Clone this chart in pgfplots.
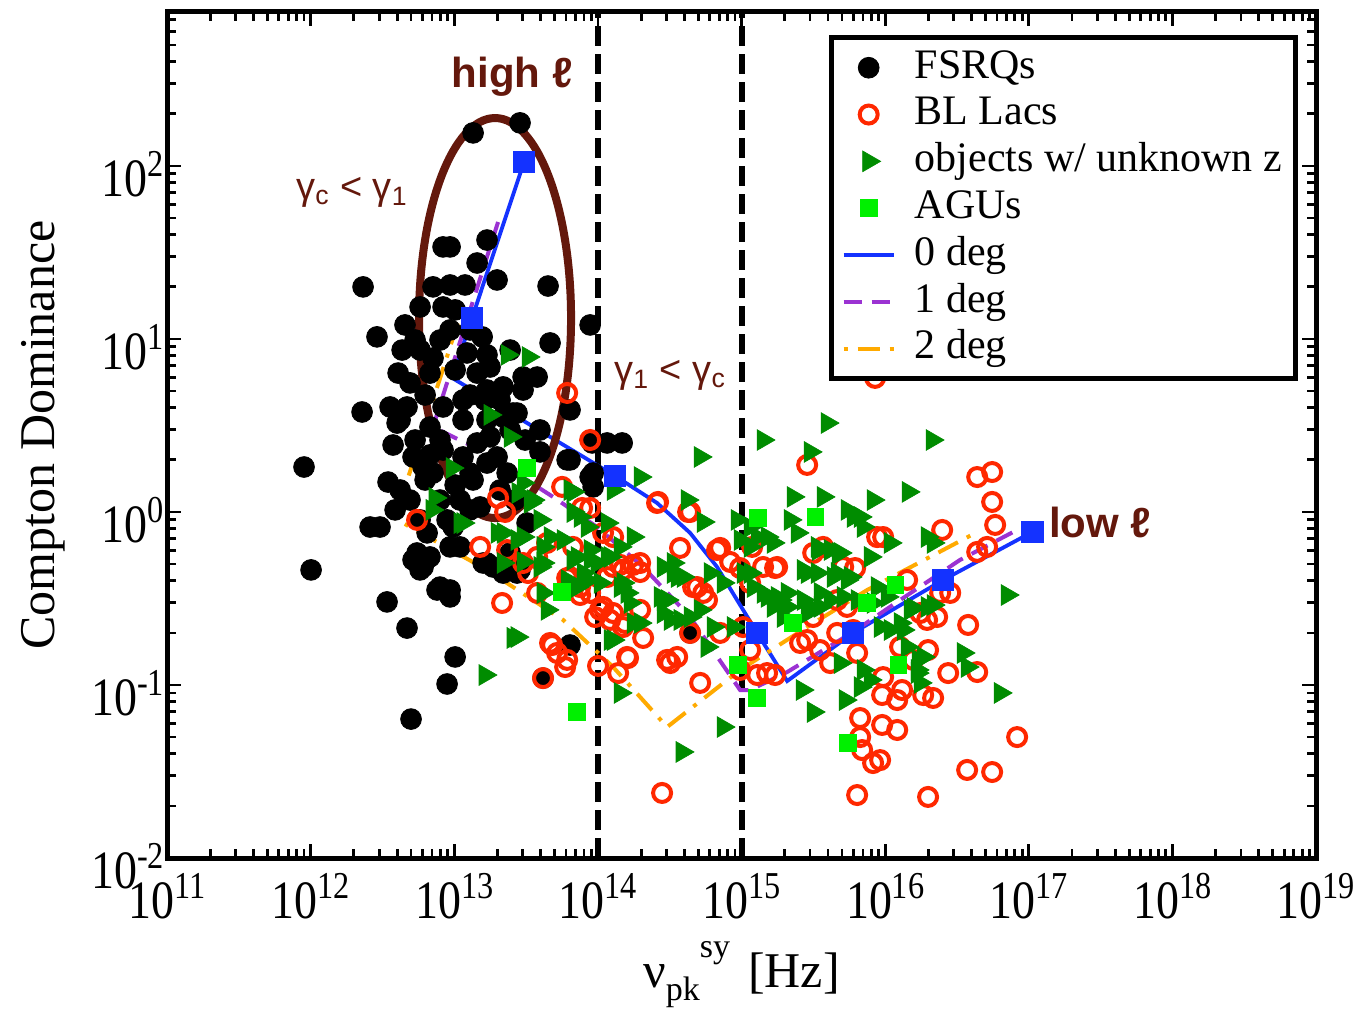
\documentclass[border=0pt]{standalone}
\usepackage{graphicx}
\usepackage{pgfplots}
\pgfplotsset{compat=1.18}
\usepackage{pgfplotstable}
\usepackage{fontspec}
\setmainfont{Liberation Serif}
\newfontfamily\arialfont{Liberation Sans}
\definecolor{maroon}{RGB}{100,24,12}
\definecolor{myblue}{RGB}{20,50,255}
\definecolor{mypurple}{RGB}{155,50,210}
\definecolor{myorange}{RGB}{255,170,0}
\definecolor{myred}{RGB}{255,40,0}
\definecolor{dgreen}{RGB}{0,140,0}
\definecolor{lgreen}{RGB}{0,240,0}
\newcommand{\tl}[1]{\scalebox{0.85}[1]{10\raisebox{10pt}{\fontsize{19}{19}\selectfont #1}}}

% all tables: lx = log10(nu), ly = log10(CD)
\pgfplotstableread{
lx ly
11.954 0.260
12.003 -0.335
12.365 1.301
12.358 0.578
12.462 1.012
12.532 -0.520
12.671 -0.671
12.699 -1.197
12.950 -0.994
13.006 -0.838
13.131 2.191
13.458 2.249
13.653 1.306
13.667 0.977
13.946 1.081
13.960 0.399
14.169 0.399
14.064 0.399
12.971 1.532
12.922 1.532
13.228 1.572
13.159 1.439
12.852 1.301
12.971 1.312
13.075 1.312
13.298 1.341
12.762 1.185
12.922 1.185
12.657 1.081
12.971 1.052
13.194 1.012
12.637 0.936
12.852 0.890
13.089 0.919
13.228 0.908
12.609 0.803
12.831 0.803
13.159 0.803
13.249 0.838
13.479 0.780
13.577 0.780
13.340 0.723
13.479 0.705
13.228 0.705
12.692 0.746
12.553 0.607
12.671 0.607
12.623 0.532
12.922 0.607
13.061 0.647
12.831 0.491
13.061 0.532
13.340 0.549
13.437 0.572
13.806 0.590
13.249 0.434
13.159 0.399
12.574 0.387
12.713 0.318
12.922 0.358
13.061 0.318
13.298 0.318
13.597 0.347
13.806 0.301
12.852 0.225
13.110 0.225
13.368 0.225
12.602 0.514
12.783 0.260
12.539 0.173
12.623 0.127
12.483 -0.087
12.762 -0.046
12.811 -0.121
12.950 -0.046
12.992 -0.087
12.741 -0.237
12.783 -0.318
12.971 -0.202
13.040 -0.202
13.228 -0.295
12.880 -0.451
12.971 -0.491
13.131 0.185
13.228 0.283
13.040 0.069
13.180 0.029
13.507 -0.064
13.786 0.301
13.946 0.202
13.389 -0.237
13.409 0.572
13.228 0.532
12.762 -0.335
12.831 -0.260
12.713 -0.277
12.901 -0.434
13.375 -0.260
13.437 -0.353
13.806 -0.769
13.618 -0.960
13.458 -0.335
13.270 -0.318
13.340 -0.353
13.201 -0.295
14.642 -0.699
13.967 0.225
13.967 0.145
12.971 -0.451
12.727 0.994
12.797 0.676
12.901 0.994
13.006 0.821
13.110 0.676
13.214 0.647
13.319 0.647
13.389 0.474
13.493 0.416
13.597 0.474
13.319 0.127
13.423 0.069
12.901 0.416
13.006 0.156
13.110 0.012
12.901 0.069
12.797 0.185
12.692 0.069
12.588 0.012
12.414 -0.087
12.762 0.936
13.006 1.168
13.110 1.052
13.389 0.936
12.727 0.416
12.831 0.330
}\fsrq

\pgfplotstableread{
lx ly
13.786 0.688
13.946 0.416
12.741 -0.046
13.305 0.081
13.354 0.000
13.751 0.145
13.890 0.023
13.180 -0.202
13.368 -0.220
13.577 -0.260
13.646 -0.179
13.827 -0.202
14.106 -0.145
14.419 0.058
14.628 0.000
14.572 -0.208
14.830 -0.220
14.921 -0.289
14.990 -0.324
13.333 -0.526
13.806 -0.376
13.876 -0.434
13.946 -0.468
14.064 -0.376
14.155 -0.306
14.245 -0.306
14.294 -0.347
14.015 -0.566
14.085 -0.624
14.175 -0.665
14.315 -0.728
14.663 -0.434
14.733 -0.468
14.642 -0.699
13.667 -0.757
13.716 -0.815
13.786 -0.855
14.203 -0.838
14.482 -0.855
14.552 -0.838
13.577 -0.468
13.618 -0.960
14.001 -0.890
14.141 -0.931
14.447 -1.624
14.712 -0.988
15.457 0.272
14.412 0.052
14.642 0.000
15.150 -0.318
15.248 -0.318
14.294 -0.295
13.946 0.023
14.036 -0.121
14.175 -0.335
14.036 -0.549
14.106 -0.584
14.294 -0.566
14.691 -0.434
14.760 -0.509
15.568 -0.202
15.708 -0.318
15.944 -0.145
16.641 0.202
16.745 0.231
16.745 0.058
16.766 -0.075
16.397 -0.104
16.641 -0.231
16.710 -0.202
15.986 -0.145
15.499 -0.237
15.791 -0.324
14.851 -0.208
15.074 -0.202
15.234 -0.324
15.060 -0.410
16.153 -0.393
16.383 -0.468
16.453 -0.468
16.244 -0.584
16.362 -0.607
16.578 -0.653
15.499 -0.607
15.666 -0.509
15.735 -0.549
14.851 -0.699
15.011 -0.665
15.457 -0.740
15.666 -0.699
16.292 -0.624
16.104 -0.780
16.299 -0.798
16.439 -0.931
16.641 -0.925
15.986 -0.954
16.118 -1.029
16.265 -1.058
16.334 -1.075
15.979 -1.058
16.084 -1.087
15.826 -1.191
15.979 -1.231
16.084 -1.260
15.826 -1.301
15.840 -1.376
15.916 -1.451
16.919 -1.301
16.571 -1.491
16.745 -1.503
15.805 -1.636
16.299 -1.647
15.109 -0.942
15.178 -0.931
15.234 -0.942
15.408 -0.757
15.547 -0.798
15.617 -0.873
15.777 -0.682
15.805 -0.815
14.990 -0.913
15.060 -0.798
16.195 -0.855
15.965 -1.434
15.930 0.775
13.681 -0.769
13.772 -0.896
14.210 -0.844
14.503 -0.873
13.514 -0.353
13.479 -0.295
13.876 -0.480
13.786 -0.382
14.106 -0.318
13.981 -0.607
14.189 -0.642
}\bllac

\pgfplotstableread{
lx ly
13.368 0.908
13.514 0.896
13.249 0.561
13.389 0.434
12.985 0.254
12.866 0.081
12.845 0.012
13.061 -0.064
13.298 -0.121
13.479 0.168
13.549 0.069
13.597 -0.046
13.479 -0.145
13.618 -0.202
13.806 0.127
13.827 0.000
13.925 -0.087
13.340 -0.295
13.479 -0.289
13.618 -0.295
13.855 -0.260
13.897 -0.353
13.946 -0.220
13.618 -0.468
13.646 -0.566
13.786 -0.393
13.855 -0.434
14.712 0.318
14.294 0.202
14.106 0.127
14.621 0.069
14.733 -0.058
13.827 0.116
13.444 0.110
13.528 0.052
13.040 -0.064
13.340 -0.121
13.437 -0.162
13.667 -0.145
13.758 -0.162
13.876 -0.029
14.064 -0.064
14.245 -0.145
14.155 -0.202
13.827 -0.277
13.946 -0.277
14.064 -0.260
13.597 -0.318
13.925 -0.393
14.015 -0.410
14.175 -0.410
14.454 -0.318
14.524 -0.353
14.593 -0.376
14.433 -0.491
14.482 -0.509
14.203 -0.468
14.224 -0.526
14.294 -0.642
14.572 -0.624
14.642 -0.607
14.712 -0.566
14.781 -0.353
14.872 -0.410
14.802 -0.665
14.942 -0.665
14.760 -0.780
14.085 -0.740
13.437 -0.723
14.990 -0.162
15.060 -0.202
15.060 -0.353
15.150 0.416
15.596 0.514
15.478 0.347
15.359 0.087
15.568 0.087
15.916 0.069
15.338 -0.046
15.387 -0.121
15.735 0.012
15.777 -0.029
15.847 -0.087
15.527 -0.202
15.617 -0.220
15.687 -0.237
15.429 -0.335
15.527 -0.353
15.638 -0.376
15.735 -0.393
15.318 -0.468
15.429 -0.509
15.547 -0.468
15.617 -0.509
15.708 -0.491
15.805 -0.509
15.916 -0.526
15.150 -0.468
15.248 -0.491
15.290 -0.607
15.457 -0.584
15.060 -0.087
15.109 -0.145
14.969 -0.046
15.011 -0.353
15.081 -0.434
16.327 0.416
16.160 0.116
15.826 -0.029
16.292 -0.145
16.334 -0.179
16.035 -0.179
15.178 -0.145
15.220 -0.179
15.534 -0.220
15.673 -0.237
15.896 -0.260
15.457 -0.353
15.666 -0.353
15.756 -0.376
15.178 -0.491
15.269 -0.509
15.318 -0.549
15.547 -0.549
16.850 -0.480
16.174 -0.566
16.292 -0.549
15.220 -0.549
15.478 -0.549
15.422 -1.029
15.499 -1.156
15.722 -1.087
15.847 -0.913
15.896 -0.971
15.826 -1.012
16.223 -0.913
16.244 -0.988
16.153 -0.780
16.265 -0.838
16.543 -0.815
16.571 -0.896
16.801 -1.046
15.687 -0.873
14.872 -1.243
16.230 -0.855
16.223 -0.931
16.104 -0.642
16.035 -0.682
15.965 -0.665
16.195 -0.555
16.334 -0.538
15.944 -0.434
16.014 -0.491
16.125 -0.682
13.214 -0.942
14.586 -1.387
14.155 -1.046
13.409 -0.728
14.106 -0.740
14.454 -0.509
14.454 -0.584
14.524 -0.295
14.552 -0.376
14.503 -0.624
14.155 -0.434
14.245 -0.642
13.994 -0.295
14.085 -0.260
13.897 -0.410
}\unkz

\pgfplotstableread{
lx ly
13.507 0.254
13.751 -0.462
13.855 -1.156
14.976 -0.884
15.109 -1.075
15.116 -0.035
15.513 -0.029
15.359 -0.642
15.875 -0.526
16.070 -0.422
15.742 -1.335
16.091 -0.884
}\agu

\pgfplotstableread{
lx ly
13.486 2.023
13.124 1.121
12.985 0.775
14.120 0.208
14.412 0.052
14.642 -0.121
14.830 -0.318
14.969 -0.509
15.109 -0.699
15.318 -0.977
15.777 -0.699
16.404 -0.393
17.024 -0.116
}\zerodeg

\pgfplotstableread{
lx ly
13.486 2.023
13.124 1.121
14.120 0.208
15.109 -0.699
15.777 -0.699
16.404 -0.393
17.024 -0.116
}\zerosq

\pgfplotstableread{
lx ly
13.305 1.676
12.852 0.491
13.180 0.358
13.688 0.087
13.994 -0.087
14.315 -0.318
14.642 -0.607
14.990 -1.029
15.060 -1.029
15.318 -0.925
15.777 -0.694
16.104 -0.509
16.522 -0.277
16.891 -0.116
}\onedeg

\pgfplotstableread{
lx ly
13.054 1.168
12.588 -0.035
12.692 -0.087
13.228 -0.335
13.758 -0.624
14.106 -0.896
14.482 -1.243
14.990 -0.913
15.457 -0.665
15.875 -0.451
16.641 -0.116
}\twodeg

\begin{document}
\begin{tikzpicture}
\begin{axis}[
  xmode=log, ymode=log,
  scale only axis, width=574.5pt, height=423pt,
  xmin=1e11, xmax=1e19, ymin=1e-2, ymax=776,
  axis line style={line width=2.5pt},
  tick align=inside, tick pos=both,
  major tick length=7pt, minor tick length=4.5pt,
  tick style={black, line width=1.4pt},
  xtick={1e11,1e12,1e13,1e14,1e15,1e16,1e17,1e18,1e19},
  xticklabels={\tl{11},\tl{12},\tl{13},\tl{14},\tl{15},\tl{16},\tl{17},\tl{18},\tl{19}},
  minor xtick={2e11,3e11,4e11,5e11,6e11,7e11,8e11,9e11,
    2e12,3e12,4e12,5e12,6e12,7e12,8e12,9e12,
    2e13,3e13,4e13,5e13,6e13,7e13,8e13,9e13,
    2e14,3e14,4e14,5e14,6e14,7e14,8e14,9e14,
    2e15,3e15,4e15,5e15,6e15,7e15,8e15,9e15,
    2e16,3e16,4e16,5e16,6e16,7e16,8e16,9e16,
    2e17,3e17,4e17,5e17,6e17,7e17,8e17,9e17,
    2e18,3e18,4e18,5e18,6e18,7e18,8e18,9e18},
  ytick={1e-2,1e-1,1,10,100},
  yticklabels={\tl{-2},\tl{-1},\tl{0},\tl{1},\tl{2}},
  minor ytick={0.02,0.03,0.04,0.05,0.06,0.07,0.08,0.09,
    0.2,0.3,0.4,0.5,0.6,0.7,0.8,0.9,
    2,3,4,5,6,7,8,9,20,30,40,50,60,70,80,90,
    200,300,400,500,600,700},
  ticklabel style={font=\fontsize{27}{27}\selectfont},
  xticklabel style={yshift=-4pt},
  yticklabel style={yshift=-4pt, xshift=2pt},
  xlabel={ν\raisebox{-6.5pt}{\fontsize{17}{17}\selectfont pk}\raisebox{15pt}{\fontsize{17}{17}\selectfont sy}\hspace{9pt}[Hz]},
  ylabel={Compton Dominance},
  label style={font=\fontsize{25}{25}\selectfont},
  xlabel style={at={(axis description cs:0.5,0)}, anchor=north, yshift=-38pt},
  ylabel shift=6pt,
  legend style={at={(0.984,0.973)}, anchor=north east, draw=black, line width=2.5pt,
    fill=white, font=\fontsize{21}{21}\selectfont, inner xsep=5pt, inner ysep=3.5pt,
    row sep=0pt, nodes={inner sep=1.5pt, text height=15.4pt, text depth=5pt},
    /tikz/every odd column/.append style={column sep=8pt}},
  legend cell align=left,
  legend image code/.code={\draw[mark repeat=2,mark phase=2,#1] plot coordinates {(0pt,0pt) (12.5pt,0pt) (25pt,0pt)};},
]
\addplot[only marks, mark=*, mark size=5.2pt, mark options={fill=black, draw=black, line width=0.4pt}]
  table[x expr=10^(\thisrow{lx}), y expr=10^(\thisrow{ly})] {\fsrq};
\addlegendentry{FSRQs}
\addplot[only marks, mark=o, mark size=4.5pt, mark options={draw=myred, line width=2pt}]
  table[x expr=10^(\thisrow{lx}), y expr=10^(\thisrow{ly})] {\bllac};
\addlegendentry{BL Lacs}
\addplot[only marks, mark=triangle*, mark size=6pt, mark options={rotate=-90, fill=dgreen, draw=dgreen, line width=0.3pt}]
  table[x expr=10^(\thisrow{lx}), y expr=10^(\thisrow{ly})] {\unkz};
\addlegendentry{objects w/ unknown z}
\addplot[only marks, mark=square*, mark size=4.2pt, mark options={fill=lgreen, draw=lgreen, line width=0.3pt}]
  table[x expr=10^(\thisrow{lx}), y expr=10^(\thisrow{ly})] {\agu};
\addlegendentry{AGUs}
\addplot[forget plot, black, line width=3pt, dash pattern=on 10pt off 4pt] coordinates {(1e14,1e-2) (1e14,776)};
\addplot[forget plot, black, line width=3pt, dash pattern=on 10pt off 4pt] coordinates {(1e15,1e-2) (1e15,776)};
\addplot[myblue, line width=1.9pt, mark=none]
  table[x expr=10^(\thisrow{lx}), y expr=10^(\thisrow{ly})] {\zerodeg};
\addlegendentry{0 deg}
\addplot[mypurple, line width=2pt, mark=none, dash pattern=on 9pt off 5pt]
  table[x expr=10^(\thisrow{lx}), y expr=10^(\thisrow{ly})] {\onedeg};
\addlegendentry{1 deg}
\addplot[myorange, line width=2pt, mark=none, dash pattern=on 2pt off 5pt on 11pt off 5pt]
  table[x expr=10^(\thisrow{lx}), y expr=10^(\thisrow{ly})] {\twodeg};
\addlegendentry{2 deg}
\addplot[forget plot, only marks, mark=square*, mark size=5.3pt, mark options={fill=myblue, draw=myblue, line width=0.3pt}]
  table[x expr=10^(\thisrow{lx}), y expr=10^(\thisrow{ly})] {\zerosq};

\draw[maroon, line width=4pt] (axis cs:1.923e13,13.21) ellipse [x radius=38pt, y radius=100pt];
\node[maroon, font=\arialfont\bfseries\fontsize{21}{21}\selectfont] at (axis cs:2.53e13,326.6) {high ℓ};
\node[maroon, font=\arialfont\bfseries\fontsize{21}{21}\selectfont] at (axis cs:3.14e17,0.875) {low ℓ};
\node[maroon, font=\arialfont\fontsize{19}{19}\selectfont] at (axis cs:1.941e12,70.8) {γ\textsubscript{c} < γ\textsubscript{1}};
\node[maroon, font=\arialfont\fontsize{19}{19}\selectfont] at (axis cs:3.184e14,6.19) {γ\textsubscript{1} < γ\textsubscript{c}};
\end{axis}
\pgfresetboundingbox
\path ([shift={(-83.5pt,-76.5pt)}]current axis.south west) rectangle ([shift={(23.5pt,6pt)}]current axis.north east);
\end{tikzpicture}
\end{document}
